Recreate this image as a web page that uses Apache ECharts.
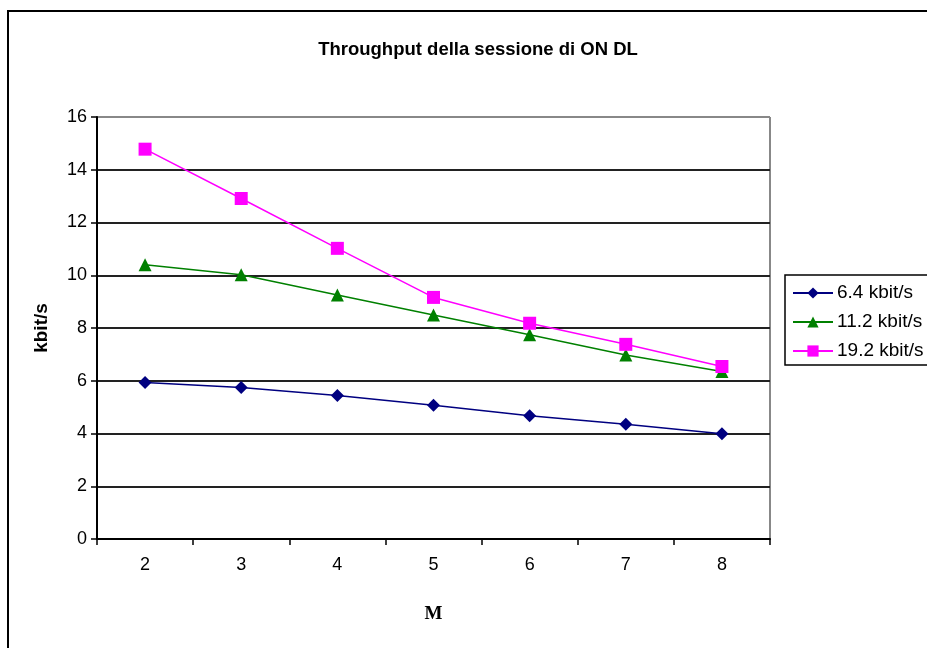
<!DOCTYPE html>
<html>
<head>
<meta charset="utf-8">
<script src="https://cdn.jsdelivr.net/npm/echarts@6/dist/echarts.min.js"></script>
<style>
  html, body { margin: 0; padding: 0; background: #fff; }
  #chart { width: 927px; height: 648px; }
</style>
</head>
<body>
<div id="chart"></div>
<script>
// Session throughput (kbit/s) against M, one line per bearer rate
const categories = ['2', '3', '4', '5', '6', '7', '8'];
const rate64 = [5.93, 5.74, 5.44, 5.07, 4.67, 4.35, 3.99];
const rate112 = [10.40, 10.02, 9.25, 8.49, 7.74, 6.98, 6.35];
const rate192 = [14.78, 12.91, 11.02, 9.16, 8.18, 7.38, 6.54];
const seriesNames = ['6.4 kbit/s', '11.2 kbit/s', '19.2 kbit/s'];

const font = 'Liberation Sans, Arial, sans-serif';
const chart = echarts.init(document.getElementById('chart'));

const diamond = 'path://M0,-1 L1,0 L0,1 L-1,0 Z';
const triangle = 'path://M0,-1 L1,0.8 L-1,0.8 Z';

function line(name, data, color, symbol, size) {
  return {
    name: name,
    type: 'line',
    data: data,
    symbol: symbol,
    symbolSize: size,
    showSymbol: true,
    animation: false,
    lineStyle: { color: color, width: 1.5 },
    itemStyle: { color: color, borderWidth: 0 },
    emphasis: { disabled: true }
  };
}

chart.setOption({
  animation: false,
  backgroundColor: '#ffffff',
  title: {
    text: 'Throughput della sessione di ON DL',
    left: 473,
    top: 35,
    textAlign: 'center',
    textStyle: { fontFamily: font, fontSize: 18.5, fontWeight: 'bold', color: '#000' }
  },
  grid: { left: 97, right: 157, top: 117, bottom: 109, show: false },
  legend: {
    orient: 'vertical',
    left: 792,
    top: 283,
    padding: 0,
    itemWidth: 40,
    itemHeight: 14,
    itemGap: 9,
    data: seriesNames,
    textStyle: { fontFamily: font, fontSize: 19, lineHeight: 20, color: '#000', padding: [0, 0, 0, -1] },
    selectedMode: false
  },
  xAxis: {
    type: 'category',
    data: categories,
    boundaryGap: true,
    name: 'M',
    nameLocation: 'middle',
    nameGap: 66,
    nameTextStyle: { fontFamily: 'Liberation Serif, serif', fontSize: 19, fontWeight: 'bold', color: '#000' },
    axisLine: { lineStyle: { color: '#000', width: 2 } },
    axisTick: { show: true, length: 6, lineStyle: { color: '#000', width: 1.5 } },
    axisLabel: { fontFamily: font, fontSize: 18, color: '#000', margin: 17 }
  },
  yAxis: {
    type: 'value',
    min: 0,
    max: 16,
    interval: 2,
    name: 'kbit/s',
    nameLocation: 'middle',
    nameGap: 46,
    nameTextStyle: { fontFamily: font, fontSize: 19, fontWeight: 'bold', color: '#000' },
    axisLine: { show: true, lineStyle: { color: '#000', width: 2 } },
    axisTick: { show: true, length: 6, lineStyle: { color: '#000', width: 1.5 } },
    axisLabel: { fontFamily: font, fontSize: 18, color: '#000', margin: 10 },
    splitLine: {
      show: true,
      lineStyle: {
        color: ['#000', '#222', '#222', '#222', '#222', '#222', '#222', '#222', '#888'],
        width: 2
      }
    }
  },
  graphic: [
    {
      type: 'rect',
      shape: { x: 8, y: 11, width: 940, height: 660 },
      style: { fill: 'none', stroke: '#000', lineWidth: 2 },
      silent: true
    },
    {
      type: 'line',
      shape: { x1: 770, y1: 117, x2: 770, y2: 539 },
      style: { stroke: '#888', lineWidth: 2 },
      silent: true
    },
    {
      type: 'rect',
      shape: { x: 785, y: 275, width: 160, height: 90 },
      style: { fill: 'none', stroke: '#000', lineWidth: 1.5 },
      silent: true
    }
  ],
  series: [
    line(seriesNames[0], rate64, '#000080', diamond, 13),
    line(seriesNames[1], rate112, '#008000', triangle, 13),
    line(seriesNames[2], rate192, '#ff00ff', 'rect', 13)
  ]
});
</script>
</body>
</html>
